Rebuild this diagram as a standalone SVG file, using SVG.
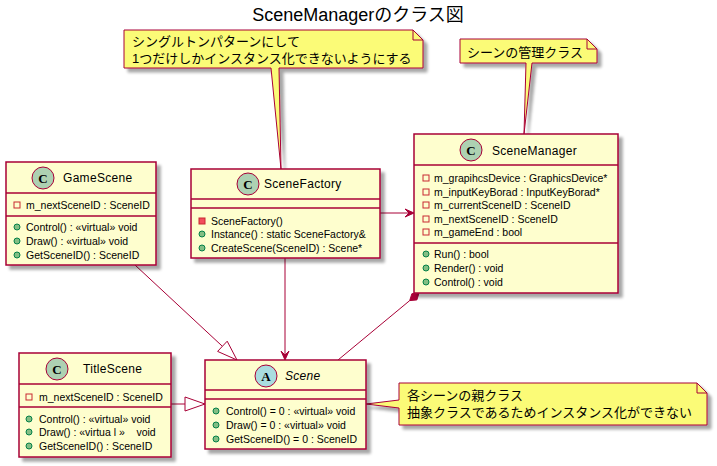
<svg xmlns="http://www.w3.org/2000/svg" width="717" height="466" viewBox="0 0 717 466">
<defs>
<filter id="sh" x="-10%" y="-10%" width="130%" height="130%">
<feGaussianBlur in="SourceAlpha" stdDeviation="1.6"/>
<feOffset dx="4" dy="4" result="b"/>
<feComponentTransfer><feFuncA type="linear" slope="0.35"/></feComponentTransfer>
<feMerge><feMergeNode/><feMergeNode in="SourceGraphic"/></feMerge>
</filter>
</defs>
<style>
text{font-family:"Liberation Sans","Noto Sans CJK JP",sans-serif;fill:#000}
.box{fill:#FEFECE;stroke:#A80036;stroke-width:1.5;filter:url(#sh)}
.sep{stroke:#A80036;stroke-width:1.5}
.cn{font-size:12px;letter-spacing:0.3px}
.m{font-size:10.5px;white-space:pre}
.ci{fill:#ADD1B2;stroke:#A80036;stroke-width:1}
.ca{fill:#A9DCDF;stroke:#A80036;stroke-width:1}
.cl{font-size:13px;font-weight:bold;text-anchor:middle;font-family:"Liberation Serif",serif}
.pa{fill:none;stroke:#C82930;stroke-width:1}
.pm{fill:#F24D5C;stroke:#C82930;stroke-width:1}
.pu{fill:#84BE84;stroke:#038048;stroke-width:1}
.note{fill:#FBFB77;stroke:#A80036;stroke-width:1;filter:url(#sh)}
.fold{fill:none;stroke:#A80036;stroke-width:1}
.nt{font-size:13px}
.ln{stroke:#A80036;stroke-width:1;fill:none}
.ah{fill:#A80036;stroke:#A80036;stroke-width:1}
.tri{fill:#FFFFFF;stroke:#A80036;stroke-width:1}
</style>
<rect width="717" height="466" fill="#FFFFFF"/>
<text x="358" y="21" font-size="18" text-anchor="middle">SceneManagerのクラス図</text>

<g id="connectors">
<line class="ln" x1="135" y1="265" x2="222.4" y2="346.3"/>
<polygon class="tri" points="237,360 227.2,341.2 217.6,351.4"/>
<line class="ln" x1="171" y1="404" x2="185" y2="404"/>
<polygon class="tri" points="205,404 185,397 185,411"/>
<line class="ln" x1="285" y1="258" x2="285" y2="358"/>
<path class="ah" d="M285,360 L281,351 L285,355 L289,351 Z"/>
<line class="ln" x1="380" y1="213" x2="412" y2="213"/>
<path class="ah" d="M414,213 L405,209 L409,213 L405,217 Z"/>
<line class="ln" x1="409.7" y1="300.6" x2="338" y2="360"/>
<polygon class="ah" points="419,293 416.9,299.9 409.7,300.6 411.9,293.7"/>
</g>

<g id="note1">
<path class="note" d="M124,30 L413,30 L423,40 L423,68 L279,68 L281,169 L271,68 L124,68 Z"/>
<path class="fold" d="M413,30 L413,40 L423,40"/>
<text class="nt" x="132" y="46">シングルトンパターンにして</text>
<text class="nt" x="132" y="63">1つだけしかインスタンス化できないようにする</text>
</g>

<g id="note2">
<path class="note" d="M460,39 L587,39 L597,49 L597,63 L532,63 L524,134 L526,63 L460,63 Z"/>
<path class="fold" d="M587,39 L587,49 L597,49"/>
<text class="nt" x="467" y="57">シーンの管理クラス</text>
</g>

<g id="note3">
<path class="note" d="M399,383 L697,383 L707,393 L707,425 L399,425 L399,408 L366,404 L399,400 Z"/>
<path class="fold" d="M697,383 L697,393 L707,393"/>
<text class="nt" x="407" y="400">各シーンの親クラス</text>
<text class="nt" x="407" y="417">抽象クラスであるためインスタンス化ができない</text>
</g>

<g id="GameScene">
<rect class="box" x="6" y="162" width="150" height="103"/>
<line class="sep" x1="6" y1="193" x2="156" y2="193"/>
<line class="sep" x1="6" y1="216" x2="156" y2="216"/>
<circle class="ci" cx="43" cy="178" r="11"/>
<text class="cl" x="43" y="183">C</text>
<text class="cn" x="63" y="182">GameScene</text>
<rect class="pa" x="14" y="202" width="6" height="6"/>
<text class="m" x="26" y="209">m_nextSceneID : SceneID</text>
<circle class="pu" cx="17" cy="227" r="3"/>
<text class="m" x="26" y="231">Control() : «virtual» void</text>
<circle class="pu" cx="17" cy="241" r="3"/>
<text class="m" x="26" y="245">Draw() : «virtual» void</text>
<circle class="pu" cx="17" cy="255" r="3"/>
<text class="m" x="26" y="259">GetSceneID() : SceneID</text>
</g>

<g id="SceneFactory">
<rect class="box" x="191" y="169" width="189" height="89"/>
<line class="sep" x1="191" y1="199" x2="380" y2="199"/>
<line class="sep" x1="191" y1="208" x2="380" y2="208"/>
<circle class="ci" cx="248" cy="184" r="11"/>
<text class="cl" x="248" y="189">C</text>
<text class="cn" x="264" y="188">SceneFactory</text>
<rect class="pm" x="199" y="218" width="6" height="6"/>
<text class="m" x="211" y="225">SceneFactory()</text>
<circle class="pu" cx="202" cy="234" r="3"/>
<text class="m" x="211" y="238">Instance() : static SceneFactory&amp;</text>
<circle class="pu" cx="202" cy="248" r="3"/>
<text class="m" x="211" y="252">CreateScene(SceneID) : Scene*</text>
</g>

<g id="SceneManager">
<rect class="box" x="414" y="134" width="204" height="159"/>
<line class="sep" x1="414" y1="165" x2="618" y2="165"/>
<line class="sep" x1="414" y1="243" x2="618" y2="243"/>
<circle class="ci" cx="471" cy="150" r="11"/>
<text class="cl" x="471" y="155">C</text>
<text class="cn" x="492" y="155">SceneManager</text>
<rect class="pa" x="423" y="175" width="6" height="6"/>
<text class="m" x="434" y="182">m_grapihcsDevice : GraphicsDevice*</text>
<rect class="pa" x="423" y="189" width="6" height="6"/>
<text class="m" x="434" y="196">m_inputKeyBorad : InputKeyBorad*</text>
<rect class="pa" x="423" y="202" width="6" height="6"/>
<text class="m" x="434" y="209">m_currentSceneID : SceneID</text>
<rect class="pa" x="423" y="216" width="6" height="6"/>
<text class="m" x="434" y="223">m_nextSceneID : SceneID</text>
<rect class="pa" x="423" y="229" width="6" height="6"/>
<text class="m" x="434" y="236">m_gameEnd : bool</text>
<circle class="pu" cx="426" cy="254" r="3"/>
<text class="m" x="434" y="258">Run() : bool</text>
<circle class="pu" cx="426" cy="268" r="3"/>
<text class="m" x="434" y="272">Render() : void</text>
<circle class="pu" cx="426" cy="282" r="3"/>
<text class="m" x="434" y="286">Control() : void</text>
</g>

<g id="TitleScene">
<rect class="box" x="19" y="353" width="152" height="104"/>
<line class="sep" x1="19" y1="384" x2="171" y2="384"/>
<line class="sep" x1="19" y1="407" x2="171" y2="407"/>
<circle class="ci" cx="57" cy="369" r="11"/>
<text class="cl" x="57" y="374">C</text>
<text class="cn" x="83" y="373">TitleScene</text>
<rect class="pa" x="26" y="394" width="6" height="6"/>
<text class="m" x="39" y="401">m_nextSceneID : SceneID</text>
<circle class="pu" cx="29" cy="419" r="3"/>
<text class="m" x="39" y="423">Control() : «virtual» void</text>
<circle class="pu" cx="29" cy="432" r="3"/>
<text class="m" x="39" y="436">Draw() : «virtua l »    void</text>
<circle class="pu" cx="29" cy="446" r="3"/>
<text class="m" x="39" y="450">GetSceneID() : SceneID</text>
</g>

<g id="Scene">
<rect class="box" x="205" y="360" width="161" height="89"/>
<line class="sep" x1="205" y1="390" x2="366" y2="390"/>
<line class="sep" x1="205" y1="399" x2="366" y2="399"/>
<circle class="ca" cx="266" cy="376" r="11"/>
<text class="cl" x="266" y="381">A</text>
<text class="cn" x="285" y="380" font-style="italic">Scene</text>
<circle class="pu" cx="216" cy="411" r="3"/>
<text class="m" x="226" y="415">Control() = 0 : «virtual» void</text>
<circle class="pu" cx="216" cy="425" r="3"/>
<text class="m" x="226" y="429">Draw() = 0 : «virtual» void</text>
<circle class="pu" cx="216" cy="439" r="3"/>
<text class="m" x="226" y="443">GetSceneID() = 0 : SceneID</text>
</g>
</svg>
